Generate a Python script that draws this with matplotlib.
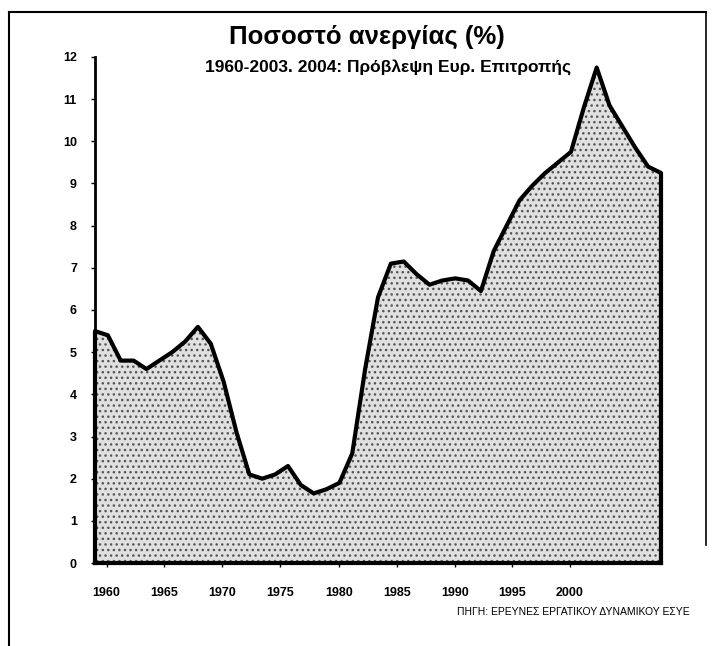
import matplotlib.pyplot as plt
from matplotlib.lines import Line2D

years = list(range(1960, 2005))
rate = [5.5, 5.4, 4.8, 4.8, 4.6, 4.8, 5.0, 5.25, 5.6, 5.2,
        4.3, 3.1, 2.1, 2.0, 2.1, 2.3, 1.85, 1.65, 1.75, 1.9,
        2.6, 4.6, 6.3, 7.1, 7.15, 6.85, 6.6, 6.7, 6.75, 6.7,
        6.45, 7.4, 8.0, 8.6, 8.95, 9.25, 9.5, 9.75, 10.8, 11.75,
        10.85, 10.35, 9.85, 9.4, 9.25]

yticks = list(range(0, 13))
xlabels = ["1960", "1965", "1970", "1975", "1980", "1985", "1990", "1995", "2000"]
xlabel_pos = [1960.9, 1965.4, 1969.9, 1974.4, 1979.0, 1983.5, 1988.0, 1992.4, 1996.9]

title = "Ποσοστό ανεργίας (%)"
subtitle = "1960-2003. 2004: Πρόβλεψη Ευρ. Επιτροπής"
source = "ΠΗΓΗ: ΕΡΕΥΝΕΣ ΕΡΓΑΤΙΚΟΥ ΔΥΝΑΜΙΚΟΥ ΕΣΥΕ"

plt.rcParams['font.family'] = ['Liberation Sans', 'DejaVu Sans']

fig = plt.figure(figsize=(7.2, 6.46), dpi=100)
ax = fig.add_axes([95 / 720, 83 / 646, 566 / 720, 506 / 646])

ax.fill_between(years, rate, 0, facecolor='#e0e0e0', edgecolor='#555555',
                hatch='...', linewidth=0)
ax.plot([years[0]] + years + [years[-1]], [0] + rate + [0],
        color='black', lw=3, solid_joinstyle='round', clip_on=False)

ax.set_xlim(years[0], years[-1])
ax.set_ylim(0, 12)
ax.set_yticks(yticks)
ax.set_yticklabels([str(t) for t in yticks], fontsize=9, fontweight='bold')
ax.set_xticks(xlabel_pos)
ax.set_xticklabels(xlabels, fontsize=9, fontweight='bold')
ax.tick_params(axis='y', length=3, width=1, pad=10)
ax.tick_params(axis='x', length=3, width=1, pad=14)

for s in ['top', 'right']:
    ax.spines[s].set_visible(False)
ax.spines['left'].set_linewidth(2)
ax.spines['bottom'].set_linewidth(3)

fig.text(367 / 720, 1 - 37 / 646, title, ha='center', va='center',
         fontsize=18.5, fontweight='bold')
fig.text(388 / 720, 1 - 67 / 646, subtitle, ha='center', va='center',
         fontsize=12.5, fontweight='bold')
fig.text(690 / 720, 1 - 612 / 646, source, ha='right', va='center',
         fontsize=7.5)

# frame around the clipping
fig.add_artist(Line2D([9 / 720, 706 / 720], [1 - 12 / 646, 1 - 12 / 646],
                      transform=fig.transFigure, color='black', lw=1.5))
fig.add_artist(Line2D([9 / 720, 9 / 720], [0, 1 - 12 / 646],
                      transform=fig.transFigure, color='black', lw=1.5))
fig.add_artist(Line2D([706 / 720, 706 / 720], [1 - 545 / 646, 1 - 12 / 646],
                      transform=fig.transFigure, color='black', lw=1.2))

fig.savefig("out.png", dpi=100)
